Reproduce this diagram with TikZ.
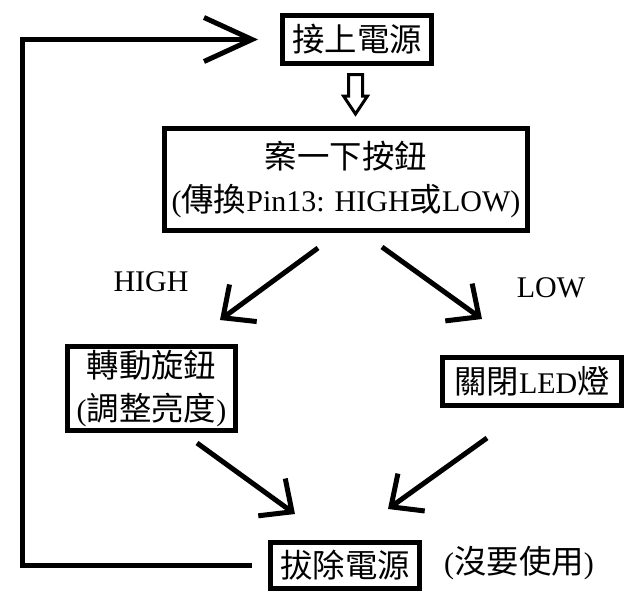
\documentclass[tikz,border=0pt]{standalone}
\usepackage{fontspec}
\setmainfont{Liberation Serif}
\newfontfamily\cjk[Scale=1.08]{Noto Sans CJK TC}
\newcommand{\zh}[1]{{\cjk #1}}
\usetikzlibrary{arrows.meta}

\tikzset{
  box/.style={draw, line width=5pt, inner sep=0pt, align=center,
    font=\fontsize{30}{43}\selectfont},
  lbl/.style={font=\fontsize{30}{43}\selectfont},
  flow/.style={line width=5pt, -{Straight Barb[length=25pt,width=46pt]}},
  loopback/.style={line width=5pt, -{Straight Barb[length=48pt,width=44pt]}},
  hollow/.style={line width=3pt, line join=miter},
}

\begin{document}
\begin{tikzpicture}[x=1pt,y=-1pt]
  \useasboundingbox (0,0) rectangle (633,608);

  % steps
  \node[box, minimum width=149pt, minimum height=48pt] (power) at (357,39.5) {\zh{接上電源}};
  \node[box, minimum width=363pt, minimum height=102pt] (press) at (346,179.5)
    {\zh{案一下按鈕}\\(\zh{傳換}Pin13: HIGH\zh{或}LOW)};
  \node[box, minimum width=168pt, minimum height=84pt] (knob) at (151.5,388.5)
    {\zh{轉動旋鈕}\\(\zh{調整亮度})};
  \node[box, minimum width=179pt, minimum height=48pt] (ledoff) at (532,381.5) {\zh{關閉}LED\zh{燈}};
  \node[box, minimum width=149pt, minimum height=46pt] (unplug) at (345,565.5) {\zh{拔除電源}};

  % labels
  \node[lbl] (high) at (151,282) {HIGH};
  \node[lbl] (low) at (551,288) {LOW};
  \node[lbl] (unused) at (519,563) {(\zh{沒要使用})};

  % arrow ends
  \coordinate (hs) at (318,248);
  \coordinate (he) at (220,320);
  \coordinate (ls) at (382,247);
  \coordinate (le) at (482,319);
  \coordinate (ks) at (197,443);
  \coordinate (ke) at (295,514);
  \coordinate (os) at (487,438);
  \coordinate (oe) at (388,509);

  \draw[flow] (hs) -- (he);
  \draw[flow] (ls) -- (le);
  \draw[flow] (ks) -- (ke);
  \draw[flow] (os) -- (oe);

  % hollow arrow power -> press
  \coordinate (harrow) at (355.5,74.5);
  \draw[hollow] (harrow) ++(-7,0) -- ++(14,0) -- ++(0,21.5) -- ++(5,0)
    -- ++(-12,18) -- ++(-12,-18) -- ++(5,0) -- cycle;

  % back to the start
  \draw[loopback] ([xshift=-16pt]unplug.west) -- ++(-230,0) |- ([xshift=-22pt]power.west);
\end{tikzpicture}
\end{document}
